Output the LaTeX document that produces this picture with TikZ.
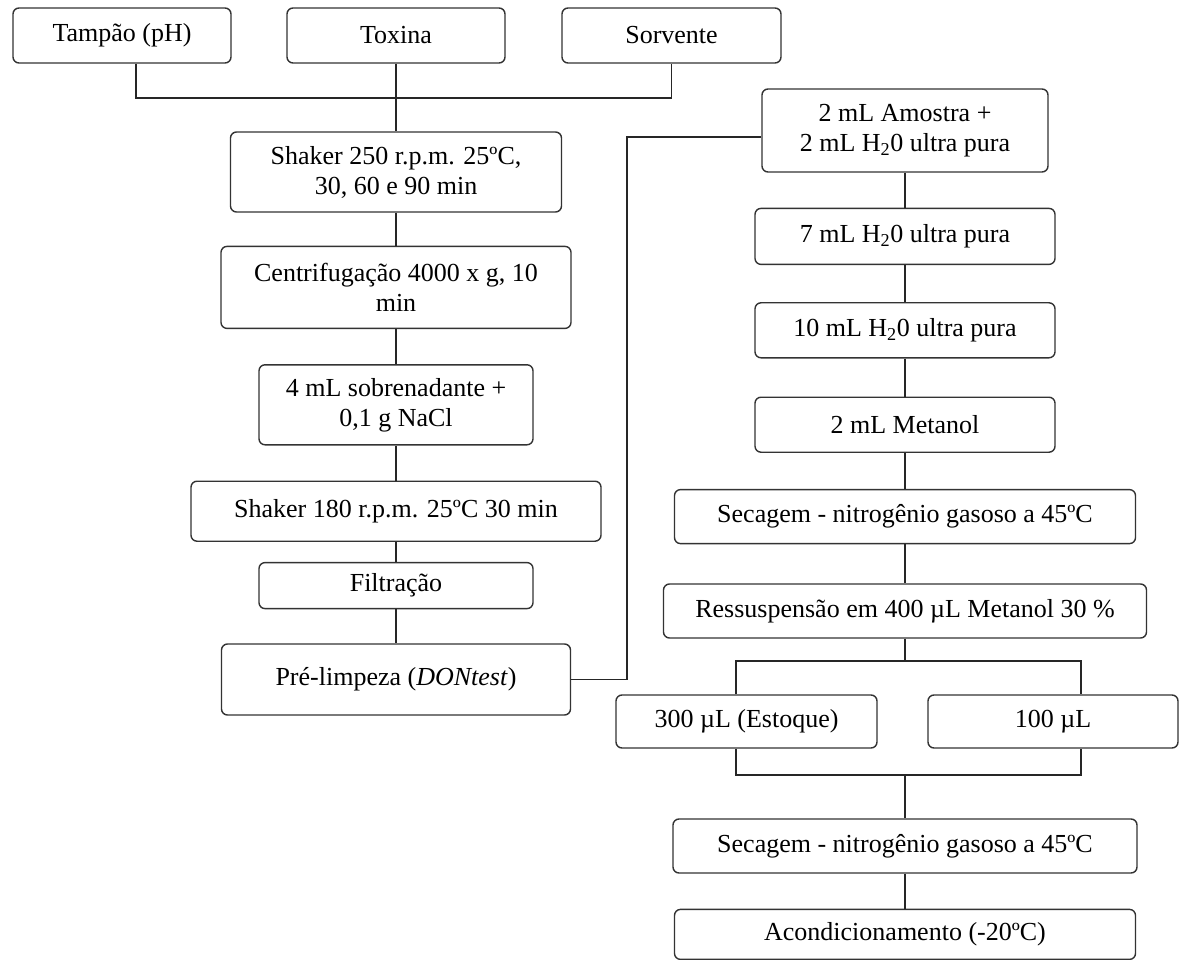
\documentclass[tikz,border=0pt]{standalone}
\usepackage{fontspec}
\setmainfont{Liberation Serif}
\usetikzlibrary{positioning}

\tikzset{
  stage/.style={draw=black!80, line width=1.4pt, rounded corners=6pt, inner sep=0pt,
    align=center, font=\fontsize{26}{30}\selectfont},
  link/.style={draw=black!85, line width=1.3pt}
}

\begin{document}
\begin{tikzpicture}[x=1pt, y=1pt]
\useasboundingbox (0,0) rectangle (1179,-960);

\node[stage, minimum width=218pt, minimum height=55pt] (tampao) at (122,-35.5) {Tampão (pH)};
\node[stage, minimum width=218pt, minimum height=55pt] (toxina) at (396,-35.5) {Toxina};
\node[stage, minimum width=219pt, minimum height=55pt] (sorvente) at (671.5,-35.5) {Sorvente};

\node[stage, minimum width=331pt, minimum height=80pt] (shakerA) at (396,-172) {Shaker 250 r.p.m. 25ºC,\\30, 60 e 90 min};
\node[stage, minimum width=350pt, minimum height=82pt, below=33pt of shakerA] (centrif) {Centrifugação 4000 x g, 10\\min};
\node[stage, minimum width=274pt, minimum height=80pt, below=35pt of centrif] (sobren) {4 mL sobrenadante +\\0,1 g NaCl};
\node[stage, minimum width=410pt, minimum height=60pt, below=35pt of sobren] (shakerB) {Shaker 180 r.p.m. 25ºC 30 min};
\node[stage, minimum width=274pt, minimum height=46pt, below=20pt of shakerB] (filtr) {Filtração};
\node[stage, minimum width=349pt, minimum height=71pt, below=34pt of filtr] (prelimp) {Pré-limpeza (\textit{DONtest})};

\node[stage, minimum width=286pt, minimum height=83pt] (amostra) at (905,-130.5) {2 mL Amostra +\\2 mL H\textsubscript{2}0 ultra pura};
\node[stage, minimum width=300pt, minimum height=56pt, below=35pt of amostra] (aguaA) {7 mL H\textsubscript{2}0 ultra pura};
\node[stage, minimum width=300pt, minimum height=55pt, below=37pt of aguaA] (aguaB) {10 mL H\textsubscript{2}0 ultra pura};
\node[stage, minimum width=300pt, minimum height=55pt, below=38pt of aguaB] (metanol) {2 mL Metanol};
\node[stage, minimum width=461pt, minimum height=54pt, below=36pt of metanol] (secA) {Secagem - nitrogênio gasoso a 45ºC};
\node[stage, minimum width=483pt, minimum height=54pt, below=39pt of secA] (ressusp) {Ressuspensão em 400 µL Metanol 30 \%};
\node[stage, minimum width=261pt, minimum height=53pt] (estoque) at (746.5,-721.5) {300 µL (Estoque)};
\node[stage, minimum width=250pt, minimum height=53pt] (cem) at (1053,-721.5) {100 µL};
\node[stage, minimum width=464pt, minimum height=54pt] (secB) at (905,-846) {Secagem - nitrogênio gasoso a 45ºC};
\node[stage, minimum width=461pt, minimum height=50pt, below=35pt of secB] (acond) {Acondicionamento (-20ºC)};

\coordinate (mix) at (396,-98);
\draw[link] ([xshift=14pt]tampao.south) |- (mix) -| (sorvente.south);
\draw[link] (toxina) -- (shakerA);
\foreach \a/\b in {shakerA/centrif, centrif/sobren, sobren/shakerB, shakerB/filtr, filtr/prelimp,
                   amostra/aguaA, aguaA/aguaB, aguaB/metanol, metanol/secA, secA/ressusp, secB/acond}
  \draw[link] (\a) -- (\b);

\coordinate (turn) at (627,-137);
\draw[link] (prelimp.east) -| (turn) -- (turn -| amostra.west);

\coordinate (splitL) at (736,-661);
\coordinate (splitR) at (1081,-661);
\coordinate (joinL) at (736,-775);
\coordinate (joinR) at (1081,-775);
\draw[link] (ressusp.south) -- (ressusp.south |- splitL);
\draw[link] (splitL |- estoque.north) -- (splitL) -- (splitR) -- (splitR |- cem.north);
\draw[link] (joinL |- estoque.south) -- (joinL) -- (joinR) -- (joinR |- cem.south);
\draw[link] (secB.north |- joinL) -- (secB.north);
\end{tikzpicture}
\end{document}
